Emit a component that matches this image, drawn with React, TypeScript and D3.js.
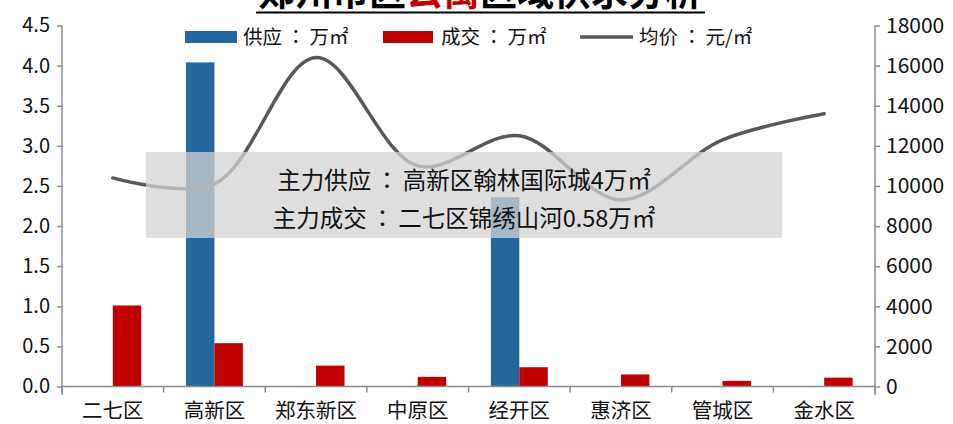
import React, { useEffect, useRef } from "react";
import * as d3 from "d3";

const categories = ["二七区", "高新区", "郑东新区", "中原区", "经开区", "惠济区", "管城区", "金水区"];
const supply = [0, 4.04, 0, 0, 2.36, 0, 0, 0];
const deal = [1.01, 0.54, 0.26, 0.12, 0.24, 0.15, 0.07, 0.11];
const price = [10400, 10100, 16400, 11000, 12500, 9300, 12300, 13600];
const leftTicks = [0, 0.5, 1, 1.5, 2, 2.5, 3, 3.5, 4, 4.5];
const rightTicks = [0, 2000, 4000, 6000, 8000, 10000, 12000, 14000, 16000, 18000];
const legendLabels = ["供应：万㎡", "成交：万㎡", "均价：元/㎡"];
const titleParts = ["郑州市区", "公寓", "区域供求分析"];
const notes = ["主力供应：高新区翰林国际城4万㎡", "主力成交：二七区锦绣山河0.58万㎡"];

const W = 953, H = 424;
const FONT = "'Noto Sans CJK SC', 'Microsoft YaHei', sans-serif";
const FONT_TC = "'Noto Sans CJK TC', 'Noto Sans CJK SC', sans-serif";
const BLUE = "#22669b";
const RED = "#c00000";
const LINE = "#595959";
const AXIS = "#8c8c8c";

// render full-width colon centred and spaced (as in the reference font)
function withColon(s: string, gap: number) {
  const parts = s.split("：");
  if (parts.length < 2) return s;
  return (
    <>
      {parts[0]}
      <tspan fontFamily={FONT_TC} dx={gap}>：</tspan>
      <tspan dx={gap}>{parts.slice(1).join("：")}</tspan>
    </>
  );
}

export default function App() {
  const leftRef = useRef<SVGGElement>(null);
  const rightRef = useRef<SVGGElement>(null);

  const x = d3.scaleBand<string>().domain(categories).range([62, 875]).paddingInner(0).paddingOuter(0);
  const yL = d3.scaleLinear().domain([0, 4.5]).range([386.5, 25.5]);
  const yR = d3.scaleLinear().domain([0, 18000]).range([386.5, 25.5]);
  const bw = x.bandwidth();
  const barW = bw * 0.28;
  const cx = (c: string) => (x(c) as number) + bw / 2;

  const line = d3
    .line<number>()
    .x((_, i) => cx(categories[i]))
    .y((d) => yR(d))
    .curve(d3.curveCatmullRom.alpha(0.5));

  useEffect(() => {
    const gl = d3.select(leftRef.current!);
    gl.selectAll("*").remove();
    gl.call(d3.axisLeft(yL).tickValues(leftTicks).tickFormat(d3.format(".1f")).tickSize(5).tickPadding(7));
    const gr = d3.select(rightRef.current!);
    gr.selectAll("*").remove();
    gr.call(d3.axisRight(yR).tickValues(rightTicks).tickFormat(d3.format("d")).tickSize(5).tickPadding(6));
    gl.selectAll(".tick text").style("font-size", "20px");
    gr.selectAll(".tick text").style("font-size", "21px");
    [gl, gr].forEach((g) => {
      g.select(".domain").attr("stroke", AXIS).attr("stroke-width", 1.5).attr("d", "M0,25.5V395");
      g.selectAll(".tick line").attr("stroke", AXIS).attr("stroke-width", 1.5);
      g.selectAll(".tick text").attr("fill", "#111").style("font-family", FONT);
    });
  }, []);

  const boundaries = [...categories.map((c) => x(c) as number), 875];

  return (
    <svg width={W} height={H} style={{ position: "absolute", left: 0, top: 0, background: "#fff" }} fontFamily={FONT}>
      <rect width={W} height={H} fill="#fff" />
      {/* title (clipped at top as in the reference) */}
      <text x={480} y={6} textAnchor="middle" fontSize={37} fontWeight="bold" fill="#000">
        <tspan>{titleParts[0]}</tspan>
        <tspan fill={RED}>{titleParts[1]}</tspan>
        <tspan>{titleParts[2]}</tspan>
      </text>
      <line x1={256} x2={705} y1={12.5} y2={12.5} stroke="#000" strokeWidth={2} />

      {/* legend */}
      <g fontSize={19.5} fill="#111">
        <rect x={185} y={31} width={52} height={12} fill={BLUE} />
        <text x={243} y={44}>{withColon(legendLabels[0], 4)}</text>
        <rect x={383} y={31} width={50} height={12} fill={RED} />
        <text x={441} y={44}>{withColon(legendLabels[1], 4)}</text>
        <line x1={580} x2={633} y1={37} y2={37} stroke={LINE} strokeWidth={3.5} />
        <text x={639} y={44}>{withColon(legendLabels[2], 4)}</text>
      </g>

      {/* bars */}
      {categories.map((c, i) => (
        <g key={c}>
          {supply[i] > 0 && (
            <rect x={cx(c) - barW} y={yL(supply[i])} width={barW} height={yL(0) - yL(supply[i])} fill={BLUE} />
          )}
          <rect x={cx(c)} y={yL(deal[i])} width={barW} height={yL(0) - yL(deal[i])} fill={RED} />
        </g>
      ))}

      {/* price line */}
      <path d={line(price) || ""} fill="none" stroke={LINE} strokeWidth={3.5} strokeLinecap="round" />

      {/* axes */}
      <g ref={leftRef} transform="translate(62,0)" />
      <g ref={rightRef} transform="translate(875,0)" />
      <line x1={62} x2={875} y1={yL(0)} y2={yL(0)} stroke={AXIS} strokeWidth={1.5} />
      {boundaries.map((b, i) => (
        <line key={i} x1={b} x2={b} y1={yL(0)} y2={yL(0) + 6} stroke={AXIS} strokeWidth={1.5} />
      ))}
      {categories.map((c) => (
        <text key={c} x={cx(c)} y={418} textAnchor="middle" fontSize={20.5} fill="#111">
          {c}
        </text>
      ))}

      {/* annotation box */}
      <rect x={146} y={152} width={636} height={86} fill="#d3d3d3" fillOpacity={0.75} />
      <text x={464} y={189} textAnchor="middle" fontSize={23.5} fill="#111">{withColon(notes[0], 4)}</text>
      <text x={464} y={227} textAnchor="middle" fontSize={23.5} fill="#111">{withColon(notes[1], 4)}</text>
    </svg>
  );
}
